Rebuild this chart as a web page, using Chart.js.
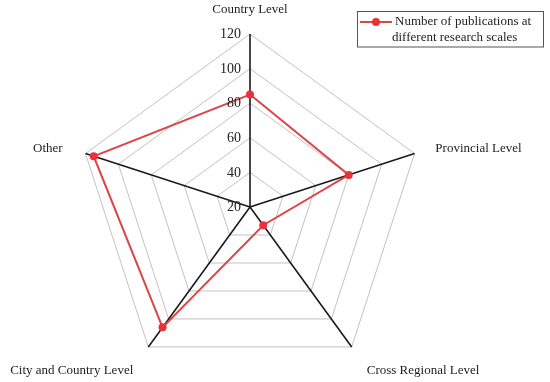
<!DOCTYPE html>
<html>
<head>
<meta charset="utf-8">
<script src="https://cdn.jsdelivr.net/npm/chart.js@4/dist/chart.umd.min.js"></script>
<style>
  html, body { margin: 0; padding: 0; background: #ffffff; }
  #wrap { width: 550px; height: 382px; position: relative; }
</style>
</head>
<body>
<div id="wrap"><canvas id="c" width="550" height="382"></canvas></div>
<script>
const categories = ["Country Level", "Provincial Level", "Cross Regional Level", "City and Country Level", "Other"];
const publications = [85, 80, 33, 106, 115];
const seriesName = ["Number of publications at", "different research scales"];
const tickValues = [20, 40, 60, 80, 100, 120];

const FONT = '"Liberation Serif", "Times New Roman", serif';
const RED_LINE = '#d9474b';
const RED_PT = '#e8323a';

const customDraw = {
  id: 'customDraw',
  afterDraw(chart) {
    const ctx = chart.ctx;
    const s = chart.scales.r;
    const R = s.drawingArea;
    ctx.save();
    // tick labels
    ctx.fillStyle = '#222';
    ctx.font = '14px ' + FONT;
    ctx.textAlign = 'right';
    ctx.textBaseline = 'middle';
    tickValues.forEach(v => {
      const d = s.getDistanceFromCenterForValue(v);
      ctx.fillText(String(v), s.xCenter - 9, s.yCenter - d + 0.5);
    });
    // point labels
    ctx.font = '13px ' + FONT;
    categories.forEach((lab, i) => {
      const p = s.getPointPosition(i, R + 24);
      const cx = Math.cos(p.angle);
      const sy = Math.sin(p.angle);
      let align = 'center';
      if (cx > 0.01) align = 'left';
      else if (cx < -0.01) align = 'right';
      ctx.textAlign = align;
      ctx.textBaseline = 'middle';
      let x = p.x, y = p.y;
      if (sy > 0.5) {
        const q = s.getPointPosition(i, R + 29);
        x = q.x + (cx > 0 ? -2 : 2);
        y = q.y;
      } else if (sy > -0.99) {
        y = p.y + 2.5;
        x = p.x + (cx > 0 ? -2 : 0);
      }
      ctx.fillText(lab, x, y);
    });
    // legend box
    ctx.strokeStyle = '#555';
    ctx.lineWidth = 1;
    ctx.strokeRect(357.5, 11.5, 186, 35.5);
    ctx.strokeStyle = RED_LINE;
    ctx.lineWidth = 2;
    ctx.beginPath();
    ctx.moveTo(360, 22);
    ctx.lineTo(392, 22);
    ctx.stroke();
    ctx.fillStyle = RED_PT;
    ctx.beginPath();
    ctx.arc(376, 22, 4, 0, Math.PI * 2);
    ctx.fill();
    ctx.fillStyle = '#222';
    ctx.font = '13px ' + FONT;
    ctx.textAlign = 'left';
    ctx.textBaseline = 'middle';
    ctx.fillText(seriesName[0], 395, 22);
    ctx.fillText(seriesName[1], 392, 38);
    ctx.restore();
  }
};

new Chart(document.getElementById('c'), {
  type: 'radar',
  data: {
    labels: categories,
    datasets: [{
      label: seriesName.join(' '),
      data: publications,
      borderColor: RED_LINE,
      backgroundColor: 'rgba(0,0,0,0)',
      borderWidth: 2,
      fill: false,
      pointRadius: 4,
      pointHoverRadius: 4,
      pointBackgroundColor: RED_PT,
      pointBorderColor: RED_PT,
      pointBorderWidth: 0,
      tension: 0
    }]
  },
  options: {
    responsive: false,
    animation: false,
    devicePixelRatio: 1,
    layout: { padding: { left: 77, right: 126, top: 34, bottom: 1 } },
    plugins: { legend: { display: false }, tooltip: { enabled: false } },
    scales: {
      r: {
        min: 20,
        max: 120,
        ticks: { display: false, stepSize: 20 },
        pointLabels: { display: false },
        grid: { color: '#c2c2c2', lineWidth: 1, circular: false },
        angleLines: { color: '#1a1a1a', lineWidth: 1.6 }
      }
    }
  },
  plugins: [customDraw]
});
</script>
</body>
</html>
